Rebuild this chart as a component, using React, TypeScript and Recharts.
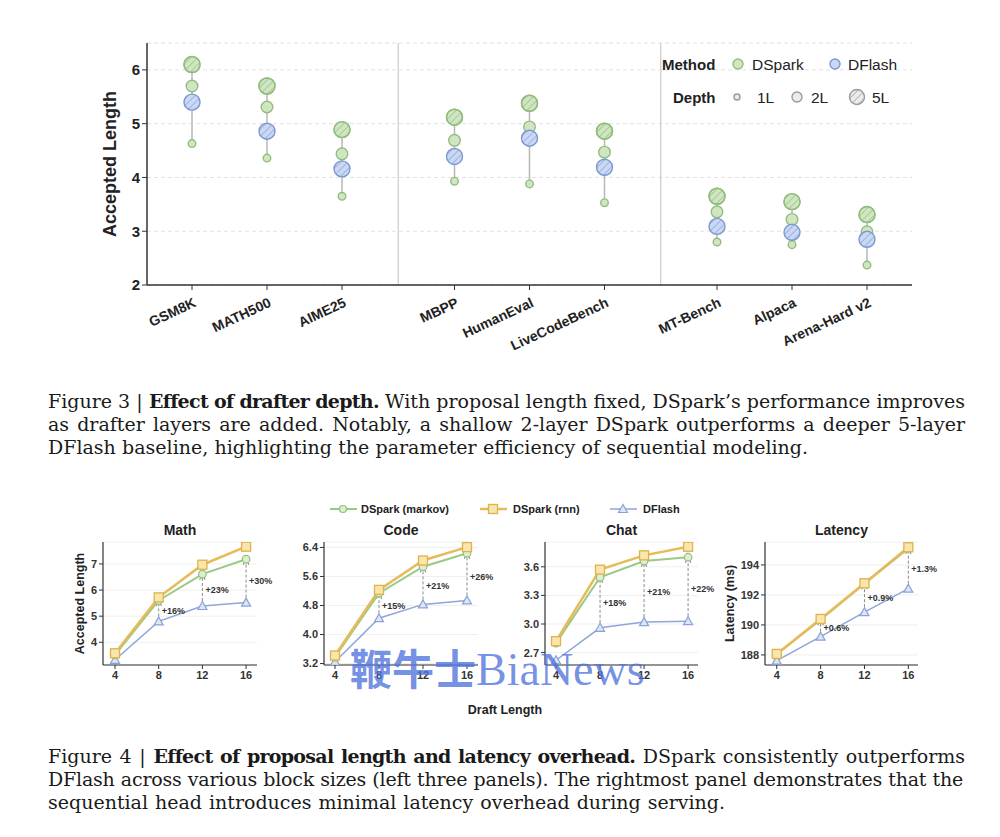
import React from 'react';
import { ComposedChart, LineChart, Line, Scatter, XAxis, YAxis, CartesianGrid, ReferenceLine } from 'recharts';

// ---- Figure 3: accepted length by drafter depth ----
const groups = [
  ['GSM8K', 'MATH500', 'AIME25'],
  ['MBPP', 'HumanEval', 'LiveCodeBench'],
  ['MT-Bench', 'Alpaca', 'Arena-Hard v2'],
];
const benchmarks = groups.flat();
// groups are separated by an extra half slot
const benchPos = groups.flatMap((g, gi) => g.map((_, i) => gi * (g.length + 0.5) + i));
const dividers = groups.slice(1).map((g, gi) => benchPos[(gi + 1) * 3] - 0.75);

const dsparkL1 = [4.63, 4.36, 3.65, 3.93, 3.88, 3.53, 2.80, 2.75, 2.37];
const dsparkL2 = [5.70, 5.31, 4.44, 4.69, 4.94, 4.47, 3.36, 3.22, 2.99];
const dsparkL5 = [6.10, 5.70, 4.89, 5.12, 5.38, 4.86, 3.65, 3.55, 3.31];
const dflashL5 = [5.40, 4.86, 4.16, 4.39, 4.73, 4.19, 3.09, 2.98, 2.85];

// ---- Figure 4: proposal length / latency ----
const drafts = [4, 8, 12, 16];
const mathMarkov = [3.52, 5.60, 6.61, 7.18];
const mathRnn = [3.58, 5.72, 6.97, 7.66];
const mathDflash = [3.33, 4.80, 5.39, 5.52];
const codeMarkov = [3.38, 5.14, 5.87, 6.24];
const codeRnn = [3.42, 5.23, 6.04, 6.41];
const codeDflash = [3.25, 4.45, 4.83, 4.94];
const chatMarkov = [2.80, 3.49, 3.66, 3.70];
const chatRnn = [2.82, 3.57, 3.72, 3.81];
const chatDflash = [2.62, 2.96, 3.02, 3.03];
const latMarkov = [188.05, 190.35, 192.75, 195.10];
const latRnn = [188.07, 190.40, 192.78, 195.18];
const latDflash = [187.62, 189.22, 190.85, 192.42];
const mathGain = ['+16%', '+23%', '+30%'];
const codeGain = ['+15%', '+21%', '+26%'];
const chatGain = ['+18%', '+21%', '+22%'];
const latGain = ['+0.6%', '+0.9%', '+1.3%'];

const GREEN = { fill: '#d0e6c2', stroke: '#93bd7f' };
const BLUE = { fill: '#c9d8f3', stroke: '#7d97cf' };
const GREY = { fill: '#ececec', stroke: '#9a9a9a' };
const SANS = '"Liberation Sans", Arial, sans-serif';
const SERIF = '"DejaVu Serif", serif';

const toPts = (vals: number[]) => vals.map((y, i) => ({ x: benchPos[i], y }));

const bubble = (c: any, r: number, hatch?: string) => (p: any) => (
  <g>
    <circle cx={p.cx} cy={p.cy} r={r} fill={c.fill} />
    {hatch && <circle cx={p.cx} cy={p.cy} r={r} fill={`url(#${hatch})`} />}
    <circle cx={p.cx} cy={p.cy} r={r} fill="none" stroke={c.stroke} strokeWidth={1.4} />
  </g>
);

const CatTick = ({ x, y, payload }: any) => (
  <text x={x + 5} y={y + 14} textAnchor="end" transform={`rotate(-25, ${x + 5}, ${y + 14})`}
    fontSize={14} fontWeight="bold" fill="#222" fontFamily={SANS}>
    {benchmarks[benchPos.indexOf(payload.value)]}
  </text>
);

const Defs = () => (
  <svg width={0} height={0} style={{ position: 'absolute' }}>
    <defs>
      <pattern id="hatchG" patternUnits="userSpaceOnUse" width="5" height="5" patternTransform="rotate(45)">
        <line x1="0" y1="0" x2="0" y2="5" stroke="#86b271" strokeWidth="1.1" />
      </pattern>
      <pattern id="hatchB" patternUnits="userSpaceOnUse" width="5" height="5" patternTransform="rotate(45)">
        <line x1="0" y1="0" x2="0" y2="5" stroke="#7a95d2" strokeWidth="1.1" />
      </pattern>
      <pattern id="hatchK" patternUnits="userSpaceOnUse" width="5" height="5" patternTransform="rotate(45)">
        <line x1="0" y1="0" x2="0" y2="5" stroke="#888" strokeWidth="1.1" />
      </pattern>
      <marker id="arrowHead" viewBox="0 0 10 10" refX="9" refY="5" markerWidth="7" markerHeight="7" orient="auto">
        <path d="M1,1 L9,5 L1,9" fill="none" stroke="#8a8a8a" strokeWidth="1.5" />
      </marker>
    </defs>
  </svg>
);

const DepthChart = () => (
  <div style={{ position: 'absolute', left: 0, top: 0 }}>
    <ComposedChart width={1000} height={380} margin={{ top: 43, right: 88, bottom: 35, left: 80 }}>
      <CartesianGrid vertical={false} stroke="#e2e2e2" strokeDasharray="4 3" />
      <XAxis type="number" dataKey="x" domain={[-0.6, 9.6]} ticks={benchPos} interval={0} height={60}
        tick={<CatTick />} axisLine={{ stroke: '#333', strokeWidth: 1.5 }} tickLine={{ stroke: '#333' }} tickSize={5} />
      <YAxis type="number" domain={[2, 6.5]} ticks={[2, 3, 4, 5, 6]} width={67} allowDataOverflow
        tick={{ fontSize: 15, fontWeight: 'bold', fill: '#222', fontFamily: SANS }}
        axisLine={{ stroke: '#333', strokeWidth: 1.5 }} tickLine={{ stroke: '#333' }} tickSize={5}
        label={{ value: 'Accepted Length', angle: -90, position: 'insideLeft', offset: 30,
          style: { textAnchor: 'middle', fontSize: 18, fontWeight: 'bold', fill: '#222', fontFamily: SANS } }} />
      {dividers.map((d) => (
        <ReferenceLine key={d} x={d} stroke="#cfcfcf" strokeWidth={1.3} />
      ))}
      {benchmarks.map((b, i) => {
        const vals = [dsparkL1[i], dsparkL2[i], dsparkL5[i], dflashL5[i]];
        return (
          <Line key={b} data={[{ x: benchPos[i], y: Math.min(...vals) }, { x: benchPos[i], y: Math.max(...vals) }]}
            dataKey="y" stroke="#b8b8b8" strokeWidth={1.5} dot={false} activeDot={false} isAnimationActive={false} />
        );
      })}
      <Scatter data={toPts(dsparkL1)} dataKey="y" shape={bubble(GREEN, 3.8)} isAnimationActive={false} />
      <Scatter data={toPts(dsparkL2)} dataKey="y" shape={bubble(GREEN, 5.8)} isAnimationActive={false} />
      <Scatter data={toPts(dsparkL5)} dataKey="y" shape={bubble(GREEN, 8)} isAnimationActive={false} />
      <Scatter data={toPts(dflashL5)} dataKey="y" shape={bubble(BLUE, 8, 'hatchB')} isAnimationActive={false} />
      <Scatter data={toPts(dsparkL5)} dataKey="y" shape={bubble({ fill: 'transparent', stroke: GREEN.stroke }, 8, 'hatchG')} isAnimationActive={false} />
    </ComposedChart>
  </div>
);

const DepthLegend = () => (
  <svg width={270} height={80} style={{ position: 'absolute', left: 650, top: 40 }} fontFamily={SANS}>
    <g transform="translate(-650,-40)">
      <text x={662} y={70} fontSize={15} fontWeight="bold" fill="#222">Method</text>
      {bubble(GREEN, 5)({ cx: 738, cy: 64 })}
      <text x={752} y={70} fontSize={15.5} fill="#222">DSpark</text>
      {bubble(BLUE, 5)({ cx: 835, cy: 64 })}
      <text x={848} y={70} fontSize={15.5} fill="#222">DFlash</text>
      <text x={673} y={103} fontSize={15} fontWeight="bold" fill="#222">Depth</text>
      {bubble(GREY, 3)({ cx: 737, cy: 97 })}
      <text x={757} y={103} fontSize={15.5} fill="#222">1L</text>
      {bubble(GREY, 5)({ cx: 797, cy: 97 })}
      <text x={811} y={103} fontSize={15.5} fill="#222">2L</text>
      {bubble(GREY, 7.5, 'hatchK')({ cx: 857, cy: 97 })}
      <text x={872} y={103} fontSize={15.5} fill="#222">5L</text>
    </g>
  </svg>
);

const squareDot = (p: any) => (
  <rect key={`s${p.index}`} x={p.cx - 4.5} y={p.cy - 4.5} width={9} height={9} fill="#f8e6ad" stroke="#dfb24c" strokeWidth={1.3} />
);
const triDot = (p: any) => (
  <polygon key={`t${p.index}`} points={`${p.cx},${p.cy - 4.5} ${p.cx - 4.5},${p.cy + 3.5} ${p.cx + 4.5},${p.cy + 3.5}`}
    fill="#dde5f6" stroke="#8ba2d6" strokeWidth={1.2} />
);

const tickStyle = { fontSize: 11, fontWeight: 'bold', fill: '#333', fontFamily: SANS };

const Panel = ({ left, right, title, markov, rnn, dflash, xDomain, yDomain, yTicks, gains, digits, yLabel, labelOffset }: any) => {
  const w = right - left + 100;
  const data = drafts.map((d, i) => ({ d, markov: markov[i], rnn: rnn[i], dflash: dflash[i] }));
  return (
    <div style={{ position: 'absolute', left: left - 60, top: 520, width: w, height: 175 }}>
      <div style={{ position: 'absolute', left: 60, width: right - left, top: 2, textAlign: 'center', fontFamily: SANS, fontWeight: 'bold', fontSize: 14, color: '#222' }}>{title}</div>
      <LineChart width={w} height={175} data={data} margin={{ top: 22, right: 40, bottom: 0, left: 0 }}>
        <CartesianGrid vertical={false} stroke="#efefef" />
        <XAxis dataKey="d" type="number" domain={xDomain} ticks={drafts} allowDataOverflow height={30}
          tick={tickStyle} axisLine={{ stroke: '#333', strokeWidth: 1.2 }} tickLine={{ stroke: '#333' }} tickSize={4} />
        <YAxis type="number" domain={yDomain} ticks={yTicks} width={60} allowDataOverflow
          tickFormatter={(v: number) => v.toFixed(digits)} tick={tickStyle}
          axisLine={{ stroke: '#333', strokeWidth: 1.2 }} tickLine={{ stroke: '#333' }} tickSize={4}
          label={yLabel ? { value: yLabel, angle: -90, position: 'insideLeft', offset: labelOffset,
            style: { textAnchor: 'middle', fontSize: 12.5, fontWeight: 'bold', fill: '#222', fontFamily: SANS } } : undefined} />
        {gains.map((g: string, k: number) => (
          <ReferenceLine key={g + k} segment={[{ x: drafts[k + 1], y: dflash[k + 1] }, { x: drafts[k + 1], y: markov[k + 1] }]}
            stroke="#8a8a8a" strokeDasharray="3 2" strokeWidth={1} markerEnd="url(#arrowHead)"
            label={{ value: g, position: 'right', offset: 3, fontSize: 9, fontWeight: 'bold', fill: '#333', fontFamily: SANS }} />
        ))}
        <Line dataKey="dflash" stroke="#8fa6d8" strokeWidth={1.5} dot={triDot} activeDot={false} isAnimationActive={false} />
        <Line dataKey="markov" stroke="#9bc986" strokeWidth={2} dot={{ r: 3.8, fill: '#dcefd0', stroke: '#8fc07a', strokeWidth: 1.2 }} activeDot={false} isAnimationActive={false} />
        <Line dataKey="rnn" stroke="#e6bb58" strokeWidth={2.5} dot={squareDot} activeDot={false} isAnimationActive={false} />
      </LineChart>
    </div>
  );
};

const LengthLegend = () => (
  <svg width={400} height={22} style={{ position: 'absolute', left: 300, top: 498 }} fontFamily={SANS}>
    <g transform="translate(-300,-498)">
      <line x1={330} x2={357} y1={509} y2={509} stroke="#9bc986" strokeWidth={2} />
      <circle cx={343} cy={509} r={3.5} fill="#dcefd0" stroke="#8fc07a" strokeWidth={1.2} />
      <text x={361} y={513} fontSize={11} fontWeight="bold" fill="#222">DSpark (markov)</text>
      <line x1={480} x2={507} y1={509} y2={509} stroke="#e6bb58" strokeWidth={2.5} />
      {squareDot({ cx: 493, cy: 509, index: 0 })}
      <text x={513} y={513} fontSize={11} fontWeight="bold" fill="#222">DSpark (rnn)</text>
      <line x1={610} x2={637} y1={509} y2={509} stroke="#8fa6d8" strokeWidth={1.5} />
      {triDot({ cx: 623, cy: 509, index: 0 })}
      <text x={643} y={513} fontSize={11} fontWeight="bold" fill="#222">DFlash</text>
    </g>
  </svg>
);

const capLine = (top: number, width: number, spacing: number, children: any) => (
  <div style={{ position: 'absolute', left: 48, top, width, fontFamily: SERIF, fontSize: 19, lineHeight: '23px',
    letterSpacing: spacing, color: '#1a1a1a', whiteSpace: 'nowrap', textAlign: 'justify', textAlignLast: 'justify' } as any}>
    {children}
  </div>
);
const bold = { letterSpacing: -0.7 };

export default function App() {
  return (
    <div style={{ position: 'absolute', left: 0, top: 0, width: 1000, height: 837, background: '#fff', overflow: 'hidden' }}>
      <Defs />
      <DepthChart />
      <DepthLegend />

      {capLine(390, 917, 0, <span>Figure 3 | <b style={bold}>Effect of drafter depth.</b> With proposal length fixed, DSpark’s performance improves</span>)}
      {capLine(413, 917, 0, <span>as drafter layers are added. Notably, a shallow 2-layer DSpark outperforms a deeper 5-layer</span>)}
      {capLine(436, 760, 0, <span>DFlash baseline, highlighting the parameter efficiency of sequential modeling.</span>)}

      <LengthLegend />
      <Panel left={103} right={257} title="Math" markov={mathMarkov} rnn={mathRnn} dflash={mathDflash}
        xDomain={[2.9, 17]} yDomain={[3.13, 7.84]} yTicks={[4, 5, 6, 7]} gains={mathGain} digits={0}
        yLabel="Accepted Length" labelOffset={37} />
      <Panel left={324} right={478} title="Code" markov={codeMarkov} rnn={codeRnn} dflash={codeDflash}
        xDomain={[3, 17]} yDomain={[3.16, 6.55]} yTicks={[3.2, 4.0, 4.8, 5.6, 6.4]} gains={codeGain} digits={1} />
      <Panel left={545} right={698} title="Chat" markov={chatMarkov} rnn={chatRnn} dflash={chatDflash}
        xDomain={[3, 16.9]} yDomain={[2.57, 3.86]} yTicks={[2.7, 3.0, 3.3, 3.6]} gains={chatGain} digits={1} />
      <Panel left={765} right={918} title="Latency" markov={latMarkov} rnn={latRnn} dflash={latDflash}
        xDomain={[2.93, 16.88]} yDomain={[187.33, 195.53]} yTicks={[188, 190, 192, 194]} gains={latGain} digits={0}
        yLabel="Latency (ms)" labelOffset={25} />
      <div style={{ position: 'absolute', left: 405, width: 200, top: 703, textAlign: 'center', fontFamily: SANS, fontWeight: 'bold', fontSize: 12.5, color: '#222' }}>Draft Length</div>

      <div style={{ position: 'absolute', left: 350, top: 642, fontSize: 42, lineHeight: '50px', color: 'rgba(80,116,222,0.78)', whiteSpace: 'nowrap', pointerEvents: 'none' }}>
        <span style={{ fontFamily: '"Noto Sans CJK SC", sans-serif', fontWeight: 'bold' }}>鞭牛士</span>
        <span style={{ fontFamily: '"Liberation Serif", serif', fontSize: 46 }}>BiaNews</span>
      </div>

      {capLine(745, 917, 0, <span>Figure 4 | <b style={bold}>Effect of proposal length and latency overhead.</b> DSpark consistently outperforms</span>)}
      {capLine(768, 915, -0.2, <span>DFlash across various block sizes (left three panels). The rightmost panel demonstrates that the</span>)}
      {capLine(791, 677, 0, <span>sequential head introduces minimal latency overhead during serving.</span>)}
    </div>
  );
}
